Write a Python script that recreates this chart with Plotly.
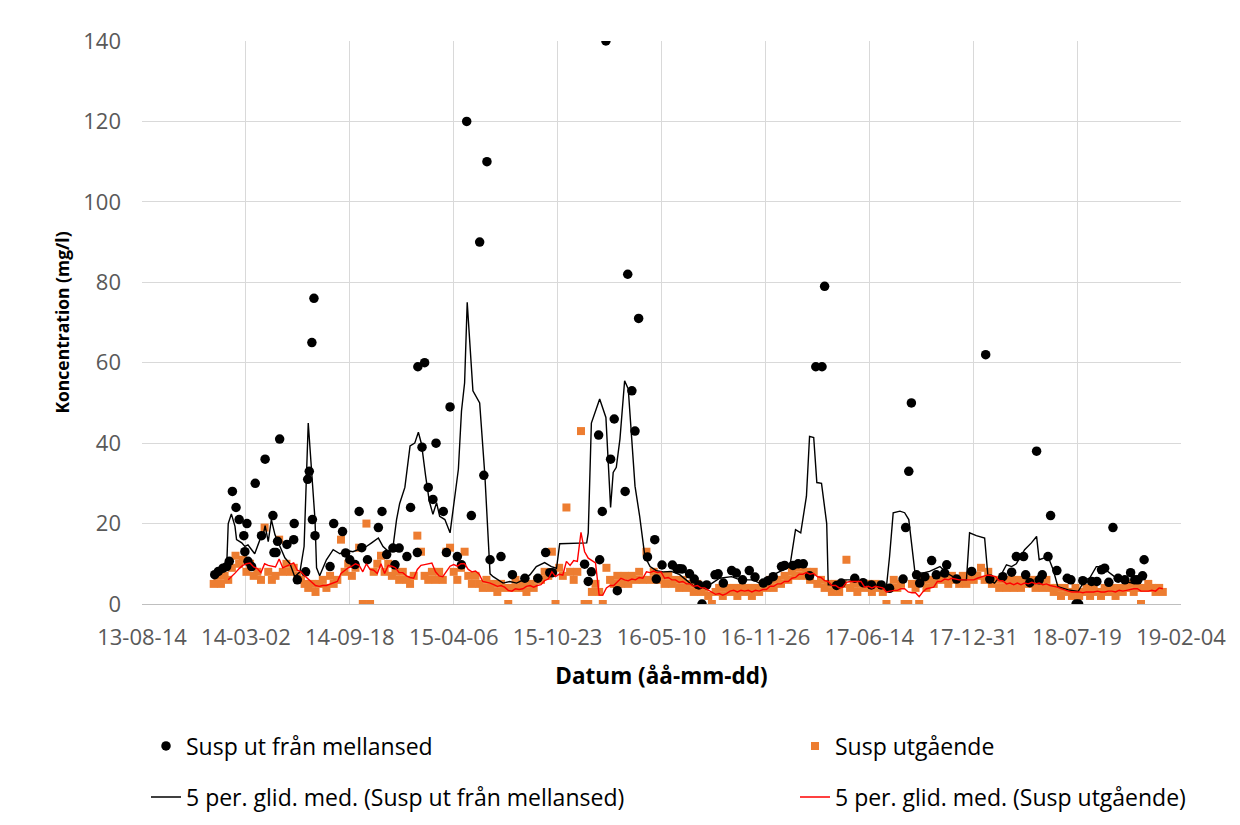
import pandas as pd
import plotly.graph_objects as go

# ---------------- data ----------------
tick_dates = ["2013-08-14", "2014-03-02", "2014-09-18", "2015-04-06", "2015-10-23", "2016-05-10",
              "2016-11-26", "2017-06-14", "2017-12-31", "2018-07-19", "2019-02-04"]

# "Susp ut från mellansed" (black dots)
black_dates = [
    "2014-01-01", "2014-01-08", "2014-01-17", "2014-01-24", "2014-01-29", "2014-02-04", "2014-02-11", "2014-02-17",
    "2014-02-26", "2014-02-28", "2014-03-04", "2014-03-06", "2014-03-13", "2014-03-20", "2014-04-01", "2014-04-08",
    "2014-04-23", "2014-04-25", "2014-04-29", "2014-05-02", "2014-05-06", "2014-05-20", "2014-06-02", "2014-06-03",
    "2014-06-09", "2014-06-25", "2014-06-29", "2014-07-02", "2014-07-07", "2014-07-08", "2014-07-11", "2014-07-13",
    "2014-08-11", "2014-08-18", "2014-09-04", "2014-09-10", "2014-09-18", "2014-09-28", "2014-10-06", "2014-10-11",
    "2014-10-22", "2014-11-12", "2014-11-19", "2014-11-28", "2014-12-10", "2014-12-14", "2014-12-22", "2015-01-06",
    "2015-01-13", "2015-01-26", "2015-01-27", "2015-02-04", "2015-02-09", "2015-02-16", "2015-02-25", "2015-03-03",
    "2015-03-17", "2015-03-23", "2015-03-30", "2015-04-13", "2015-04-21", "2015-05-01", "2015-05-10", "2015-05-26",
    "2015-06-03", "2015-06-09", "2015-06-15", "2015-07-06", "2015-07-28", "2015-08-21", "2015-09-15", "2015-09-30",
    "2015-10-08", "2015-10-13", "2015-12-14", "2015-12-21", "2015-12-27", "2016-01-10", "2016-01-12", "2016-01-17",
    "2016-01-24", "2016-02-02", "2016-02-09", "2016-02-15", "2016-03-01", "2016-03-06", "2016-03-14", "2016-03-20",
    "2016-03-27", "2016-04-13", "2016-04-27", "2016-04-30", "2016-05-11", "2016-05-31", "2016-06-09", "2016-06-14",
    "2016-06-19", "2016-07-03", "2016-07-12", "2016-07-21", "2016-07-27", "2016-08-05", "2016-08-21", "2016-08-27",
    "2016-09-06", "2016-09-22", "2016-10-01", "2016-10-13", "2016-10-26", "2016-11-06", "2016-11-22", "2016-12-01",
    "2016-12-11", "2016-12-27", "2017-01-02", "2017-01-18", "2017-01-28", "2017-02-07", "2017-02-19", "2017-03-03",
    "2017-03-15", "2017-03-20", "2017-04-12", "2017-04-21", "2017-05-17", "2017-06-02", "2017-06-18", "2017-07-07",
    "2017-07-23", "2017-08-18", "2017-08-23", "2017-08-29", "2017-09-03", "2017-09-13", "2017-09-19", "2017-09-29",
    "2017-10-12", "2017-10-21", "2017-11-06", "2017-11-10", "2017-11-29", "2017-12-28", "2018-01-24", "2018-02-01",
    "2018-02-26", "2018-03-15", "2018-03-24", "2018-04-07", "2018-04-11", "2018-04-19", "2018-05-02", "2018-05-07",
    "2018-05-13", "2018-05-24", "2018-05-29", "2018-06-10", "2018-06-30", "2018-07-07", "2018-07-17", "2018-07-22",
    "2018-07-30", "2018-08-16", "2018-08-26", "2018-09-04", "2018-09-10", "2018-09-18", "2018-09-26", "2018-10-06",
    "2018-10-19", "2018-10-30", "2018-11-07", "2018-11-13", "2018-11-22", "2018-11-25",
]
black_vals = [
    7.3, 8.1, 8.9, 9.3, 10.6, 28, 24, 21,
    17, 13, 20, 10.6, 9.3, 30, 17, 36,
    22, 12.8, 12.8, 15.6, 41, 14.8, 16, 20,
    6, 8, 31, 33, 65, 21, 76, 17,
    9.3, 20, 18, 12.7, 11, 9.8, 23, 14,
    11, 19, 23, 12.3, 13.9, 9.75, 13.9, 11.8,
    24, 12.8, 59, 39, 60, 29, 26, 40,
    23, 12.8, 49, 11.8, 9.75, 120, 22, 90,
    32, 110, 11, 11.8, 7.3, 6.4, 6.4, 12.8,
    7.8, 7.8, 9.9, 5.6, 8, 42, 11, 23,
    140, 36, 46, 3.3, 28, 82, 53, 43,
    71, 11.7, 16, 6.2, 9.7, 9.7, 8.7, 8.75,
    8.7, 7.5, 6.2, 4.75, 0, 4.75, 7.25, 7.5,
    5.2, 8.3, 7.7, 6, 8.3, 6.7, 5.2, 5.8,
    6.8, 9.3, 9.6, 9.6, 10, 10, 7, 59,
    59, 79, 4.6, 5.2, 6.4, 5.3, 4.75, 4.75,
    3.9, 6.2, 19, 33, 50, 7.25, 5.2, 6.8,
    10.8, 7.25, 7.7, 9.75, 6.2, 8.1, 62, 6.2,
    6.8, 7.9, 11.8, 11.8, 7.25, 5.3, 38, 6,
    7.25, 11.8, 22, 8.3, 6.4, 6, 0, 0,
    5.8, 5.6, 5.6, 8.5, 8.9, 5.4, 19, 6.4,
    6, 7.8, 6, 6, 7, 11,
]

# "Susp utgående" (orange squares), weekly samples starting 2013-12-30
orange_start = "2013-12-30"
orange_vals = [
    5, 7, 5, 7, 6, 9, 12, 10, 11, 8,
    10, 7, 8, 6, 19, 8, 6, 7, 16, 8,
    10, 8, 9, 7, 6, 5, 4, 5, 3, 5,
    6, 4, 7, 5, 6, 16, 8, 10, 7, 9,
    14, 0, 20, 0, 8, 10, 12, 8, 10, 7,
    8, 6, 8, 6, 5, 7, 17, 13, 7, 6,
    8, 6, 8, 6, 13, 14, 8, 6, 9, 13,
    7, 5, 7, 5, 4, 6, 4, 5, 3, 5,
    4, 0, 4, 6, 4, 5, 3, 5, 4, 6,
    6, 8, 7, 13, 0, 9, 7, 24, 8, 6,
    8, 43, 0, 0, 3, 5, 3, 0, 9, 6,
    5, 7, 5, 7, 5, 7, 6, 8, 6, 13,
    6, 8, 6, 7, 5, 7, 5, 6, 4, 6,
    4, 5, 3, 5, 3, 4, 2, 0, 3, 4,
    2, 4, 3, 4, 2, 4, 3, 4, 2, 4,
    3, 5, 4, 6, 4, 6, 5, 7, 6, 8,
    7, 9, 7, 8, 6, 8, 5, 6, 4, 5,
    3, 5, 3, 5, 11, 4, 5, 3, 5, 4,
    5, 3, 5, 4, 3, 0, 4, 6, 4, 5,
    0, 0, 5, 4, 0, 6, 4, 6, 5, 7,
    6, 7, 5, 7, 6, 5, 7, 5, 7, 6,
    7, 9, 6, 8, 5, 6, 4, 6, 4, 6,
    4, 6, 4, 6, 5, 6, 4, 5, 4, 6,
    4, 3, 4, 2, 4, 3, 2, 4, 2, 3,
    4, 2, 4, 3, 2, 4, 3, 4, 2, 4,
    3, 4, 5, 3, 4, 0, 4, 5, 4, 3,
    4, 3,
]

# 5-period moving average of the black series, as drawn
ma_black_dates = [
    "2013-12-29", "2014-01-17", "2014-01-24", "2014-01-27", "2014-02-02", "2014-02-09", "2014-02-12", "2014-02-22",
    "2014-02-28", "2014-03-06", "2014-03-13", "2014-03-19", "2014-03-29", "2014-04-04", "2014-04-08", "2014-04-14",
    "2014-04-20", "2014-04-27", "2014-05-06", "2014-05-16", "2014-05-26", "2014-06-04", "2014-06-14", "2014-06-22",
    "2014-06-30", "2014-07-06", "2014-07-13", "2014-07-16", "2014-07-22", "2014-08-04", "2014-08-17", "2014-08-30",
    "2014-09-12", "2014-09-24", "2014-10-11", "2014-10-20", "2014-10-30", "2014-11-12", "2014-11-21", "2014-12-01",
    "2014-12-10", "2014-12-17", "2014-12-23", "2015-01-02", "2015-01-12", "2015-01-21", "2015-01-28", "2015-02-03",
    "2015-02-11", "2015-02-18", "2015-02-25", "2015-03-04", "2015-03-10", "2015-03-20", "2015-03-30", "2015-04-15",
    "2015-04-21", "2015-04-27", "2015-05-02", "2015-05-13", "2015-05-26", "2015-06-05", "2015-06-15", "2015-06-21",
    "2015-07-10", "2015-07-23", "2015-08-05", "2015-08-18", "2015-08-31", "2015-09-12", "2015-09-28", "2015-10-11",
    "2015-10-21", "2015-10-27", "2015-12-18", "2015-12-21", "2015-12-27", "2016-01-12", "2016-01-24", "2016-01-28",
    "2016-02-02", "2016-02-07", "2016-02-13", "2016-02-20", "2016-02-29", "2016-03-07", "2016-03-20", "2016-03-29",
    "2016-04-08", "2016-04-18", "2016-04-30", "2016-05-13", "2016-05-29", "2016-06-14", "2016-07-03", "2016-07-16",
    "2016-08-05", "2016-08-30", "2016-09-22", "2016-10-08", "2016-11-02", "2016-11-22", "2016-12-04", "2016-12-24",
    "2017-01-12", "2017-01-23", "2017-02-02", "2017-02-13", "2017-02-19", "2017-02-27", "2017-03-05", "2017-03-14",
    "2017-03-24", "2017-03-27", "2017-04-12", "2017-04-25", "2017-05-14", "2017-06-02", "2017-06-28", "2017-07-17",
    "2017-07-23", "2017-07-30", "2017-08-12", "2017-08-21", "2017-08-29", "2017-09-10", "2017-09-26", "2017-10-08",
    "2017-10-28", "2017-11-10", "2017-11-22", "2017-12-05", "2017-12-18", "2017-12-24", "2018-01-06", "2018-01-22",
    "2018-01-29", "2018-02-10", "2018-02-23", "2018-03-05", "2018-03-15", "2018-03-24", "2018-04-09", "2018-04-22",
    "2018-05-02", "2018-05-07", "2018-05-24", "2018-06-03", "2018-06-12", "2018-07-02", "2018-07-21", "2018-08-03",
    "2018-08-12", "2018-08-25", "2018-09-04", "2018-09-20", "2018-09-29", "2018-10-15", "2018-11-04", "2018-11-20",
]
ma_black_vals = [
    6.5, 8.3, 9.3, 20, 22.4, 19.3, 16, 15.2,
    14.3, 14.7, 13.5, 12.5, 16, 17, 19.5, 15.5,
    21, 17.2, 14.5, 11.5, 10, 6.8, 8, 14.3,
    45, 33, 21, 9, 7, 11, 13.5, 12.5,
    13.3, 13, 13.9, 14.3, 15.2, 16.4, 14.3, 13.1,
    14, 21, 25, 29, 39.3, 40, 42.7, 39.8,
    31.8, 25.6, 22.3, 25.2, 21.8, 21, 17.7, 33.5,
    48, 55, 75, 53, 50, 32, 7.5, 6.8,
    5.2, 5.6, 5.2, 6, 7.3, 9.3, 10.3, 9.3,
    8.9, 15, 15.2, 17.7, 45, 51, 46.4, 36.8,
    24, 32.7, 34, 41, 55.5, 53.5, 29.3, 21.8,
    11.8, 9.3, 8.3, 8, 8.1, 7.3, 5.2, 3.9,
    4.3, 6.4, 6.8, 6, 6, 4.75, 6.8, 8.1,
    9.3, 18.5, 17.7, 26.8, 41.7, 41.4, 30.2, 30,
    20, 4.75, 4.75, 6, 6, 5.2, 4.75, 4.3,
    11.8, 22.7, 23.1, 22.7, 21, 7.7, 7.7, 8.1,
    9.3, 7.7, 6.8, 6, 6, 17.7, 17, 16.4,
    6, 5.2, 7.3, 9.75, 9.3, 10, 13.5, 15.2,
    16.8, 11, 11.8, 8.5, 4.3, 3.5, 3.1, 6,
    6.4, 9.3, 9.3, 7.7, 6.8, 5.6, 5.2, 6,
]

# ---------------- derived ----------------
orange_dates = pd.date_range(orange_start, periods=len(orange_vals), freq="7D")
ma_orange = pd.Series(orange_vals, dtype=float).rolling(5).mean()

FONT = "Open Sans"
W, H = 1232, 817  # page body adds an 8 px offset, so the figure fits the 1240x825 window


def cx(px):
    return (px - 8) / W


def cy(py):
    return 1 - (py - 8) / H


fig = go.Figure()
fig.add_trace(go.Scatter(
    x=orange_dates, y=orange_vals, mode="markers", name="Susp utgående",
    marker=dict(symbol="square", size=8, color="#ED7D31"),
    legend="legend2"))
fig.add_trace(go.Scatter(
    x=pd.to_datetime(black_dates), y=black_vals, mode="markers", name="Susp ut från mellansed",
    marker=dict(symbol="circle", size=9.5, color="#000000"),
    legend="legend"))
fig.add_trace(go.Scatter(
    x=pd.to_datetime(ma_black_dates), y=ma_black_vals, mode="lines",
    name="5 per. glid. med. (Susp ut från mellansed)",
    line=dict(color="#000000", width=1.4), legend="legend3"))
fig.add_trace(go.Scatter(
    x=orange_dates, y=ma_orange, mode="lines",
    name="5 per. glid. med. (Susp utgående)",
    line=dict(color="#FF0000", width=1.4), legend="legend4"))

leg_common = dict(xref="container", yref="container", xanchor="left", yanchor="middle",
                  orientation="h", bgcolor="rgba(0,0,0,0)", borderwidth=0,
                  font=dict(family=FONT, size=23, color="#000000"))

fig.update_layout(
    width=W, height=H,
    margin=dict(l=134, r=59, t=33, b=221, autoexpand=False),
    paper_bgcolor="white", plot_bgcolor="white",
    font=dict(family=FONT, size=22, color="#595959"),
    xaxis=dict(
        type="date", range=["2013-08-14", "2019-02-04"],
        tickvals=pd.to_datetime(tick_dates), tickformat="%y-%m-%d", tickangle=0,
        showgrid=True, gridcolor="#D9D9D9", gridwidth=1.3,
        showline=True, linecolor="#BFBFBF", linewidth=1.3, automargin=False,
        ticks="", ticklabelstandoff=13, zeroline=False,
        title=dict(text="<b>Datum (åå-mm-dd)</b>", font=dict(family=FONT, size=22.5, color="#000000"),
                   standoff=18),
    ),
    yaxis=dict(
        range=[0, 140], dtick=20, tick0=0, automargin=False,
        showgrid=True, gridcolor="#D9D9D9", gridwidth=1.3,
        showline=False, zeroline=False, ticks="", ticklabelstandoff=20,
        title=dict(text="<b>Koncentration (mg/l)</b>", font=dict(family=FONT, size=17.5, color="#000000"),
                   standoff=9),
    ),
    legend=dict(x=cx(146), y=cy(746), **leg_common),
    legend2=dict(x=cx(795), y=cy(746), **leg_common),
    legend3=dict(x=cx(146), y=cy(797), **leg_common),
    legend4=dict(x=cx(795), y=cy(797), **leg_common),
    showlegend=True,
)

fig.write_html("out.html")
